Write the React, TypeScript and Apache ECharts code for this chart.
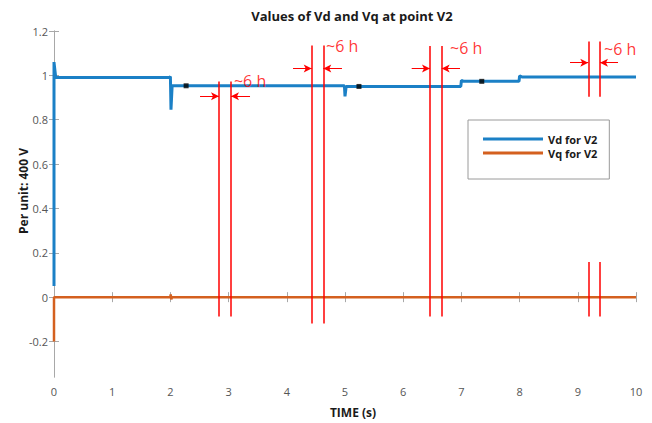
import React, { useEffect, useRef } from "react";
import * as echarts from "echarts";

// ---- data ----
const vdTime = [0, 0, 0.03, 1.98, 2.0, 2.01, 2.03, 4.99, 5.0, 5.02, 6.99, 7.0, 7.04, 7.99, 8.0, 8.04, 10];
const vdValue = [0.05, 1.06, 0.99, 0.99, 0.995, 0.845, 0.953, 0.953, 0.905, 0.95, 0.95, 0.977, 0.973, 0.973, 0.997, 0.993, 0.993];

const vqTime = [0, 0, 2.0, 2.005, 2.015, 2.03, 10];
const vqValue = [-0.2, 0, 0, 0.012, -0.01, 0, 0];

const markerTime = [2.27, 5.24, 7.35];
const markerValue = [0.953, 0.95, 0.973];

const yTicks = [-0.2, 0, 0.2, 0.4, 0.6, 0.8, 1, 1.2];

// red "~6 h" annotations (data units)
const pairLeftX = [2.835, 4.428, 6.46, 9.18];
const pairRightX = [3.041, 4.627, 6.661, 9.381];
const pairTop = [0.972, 1.135, 1.132, 1.153];
const pairBottom = [-0.087, -0.119, -0.087, -0.087];
const pairGapTop = [null, null, null, 0.904];
const pairGapBottom = [null, null, null, 0.158];
const arrowY = [0.906, 1.031, 1.031, 1.057];
const arrowLeftStart = [2.509, 4.107, 6.146, 8.866];
const arrowRightStart = [3.368, 4.948, 6.976, 9.691];
const labelX = [3.058, 4.64, 6.77, 9.416];
const labelY = [0.974, 1.132, 1.122, 1.117];

const FONT = "'Open Sans', 'Noto Sans', sans-serif";
const BLUE = "#1b80c6";
const ORANGE = "#d4601f";
const RED = "#ff0000";

export default function App() {
  const ref = useRef<HTMLDivElement>(null);

  useEffect(() => {
    if (!ref.current) return;
    const chart = echarts.init(ref.current, undefined, { renderer: "svg" });

    const vdData = vdTime.map((t, i) => [t, vdValue[i]]);
    const vqData = vqTime.map((t, i) => [t, vqValue[i]]);
    const markerData = markerTime.map((t, i) => [t, markerValue[i]]);
    const labelData = labelX.map((x, i) => [x, labelY[i]]);

    const noSym = { symbol: "none" };
    const markLines: any[] = [];
    pairLeftX.forEach((lx, i) => {
      const rx = pairRightX[i];
      [lx, rx].forEach((x) => {
        if (pairGapTop[i] != null) {
          markLines.push([
            { coord: [x, pairTop[i]], ...noSym },
            { coord: [x, pairGapTop[i]], ...noSym },
          ]);
          markLines.push([
            { coord: [x, pairGapBottom[i]], ...noSym },
            { coord: [x, pairBottom[i]], ...noSym },
          ]);
        } else {
          markLines.push([
            { coord: [x, pairTop[i]], ...noSym },
            { coord: [x, pairBottom[i]], ...noSym },
          ]);
        }
      });
      markLines.push([
        { coord: [arrowLeftStart[i], arrowY[i]], symbol: "none", lineStyle: { width: 1 } },
        { coord: [lx, arrowY[i]], symbol: "arrow", symbolSize: [6, 8], lineStyle: { width: 1 } },
      ]);
      markLines.push([
        { coord: [arrowRightStart[i], arrowY[i]], symbol: "none", lineStyle: { width: 1 } },
        { coord: [rx, arrowY[i]], symbol: "arrow", symbolSize: [6, 8], lineStyle: { width: 1 } },
      ]);
    });

    const axisLineStyle = { color: "#a8a8a8", width: 1 };

    chart.setOption({
      animation: false,
      backgroundColor: "#ffffff",
      title: {
        text: "Values of Vd and Vq at point V2",
        left: 347,
        top: 4,
        textAlign: "center",
        textStyle: { fontFamily: FONT, fontSize: 13, fontWeight: "bold", color: "#1a1a1a" },
      },
      legend: {
        data: ["Vd for V2", "Vq for V2"],
        orient: "vertical",
        left: 468,
        top: 120,
        icon: "rect",
        itemWidth: 60,
        itemHeight: 3,
        itemGap: 2,
        padding: [13, 12, 20, 15],
        borderColor: "#9a9a9a",
        borderWidth: 1,
        backgroundColor: "#ffffff",
        textStyle: { fontFamily: FONT, fontSize: 11, fontWeight: "bold", color: "#1a1a1a", lineHeight: 12 },
      },
      grid: { left: 54, right: 16, top: 31, bottom: 46, show: false },
      xAxis: [
        {
          type: "value",
          min: 0,
          max: 10,
          interval: 1,
          name: "TIME (s)",
          nameLocation: "middle",
          nameGap: 29,
          nameTextStyle: { fontFamily: FONT, fontSize: 12, fontWeight: "bold", color: "#1a1a1a", padding: [0, 0, 0, 16] },
          axisLine: { show: true, lineStyle: axisLineStyle },
          axisTick: { show: true, inside: true, length: 5, lineStyle: axisLineStyle },
          axisLabel: { fontFamily: FONT, fontSize: 11, color: "#555", margin: 9 },
          splitLine: { show: false },
        },
        {
          type: "value",
          position: "top",
          min: 0,
          max: 10,
          interval: 1,
          axisLine: { show: true, lineStyle: axisLineStyle },
          axisTick: { show: true, inside: true, length: 5, lineStyle: axisLineStyle },
          axisLabel: { show: false },
          splitLine: { show: false },
        },
      ],
      yAxis: [
        {
          type: "value",
          min: -0.36,
          max: 1.2,
          name: "Per unit: 400 V",
          nameLocation: "middle",
          nameGap: 25,
          nameMoveOverlap: false,
          nameTextStyle: { fontFamily: FONT, fontSize: 12, fontWeight: "bold", color: "#1a1a1a", padding: [0, 0, 0, 26] },
          axisLine: { show: true, lineStyle: axisLineStyle },
          axisTick: { show: true, inside: true, length: 5, lineStyle: axisLineStyle, customValues: yTicks },
          axisLabel: {
            fontFamily: FONT,
            fontSize: 11,
            color: "#555",
            margin: 6,
            customValues: yTicks,
            formatter: (v: number) => String(Math.round(v * 10) / 10),
          },
          splitLine: { show: false },
        },
        {
          type: "value",
          position: "right",
          min: -0.36,
          max: 1.2,
          axisLine: { show: true, lineStyle: axisLineStyle },
          axisTick: { show: true, inside: true, length: 5, lineStyle: axisLineStyle, customValues: yTicks },
          axisLabel: { show: false, customValues: yTicks },
          splitLine: { show: false },
        },
      ],
      series: [
        {
          name: "Vd for V2",
          type: "line",
          data: vdData,
          showSymbol: false,
          symbol: "none",
          color: BLUE,
          lineStyle: { color: BLUE, width: 3 },
          z: 3,
        },
        {
          name: "Vq for V2",
          type: "line",
          data: vqData,
          showSymbol: false,
          symbol: "none",
          color: ORANGE,
          lineStyle: { color: ORANGE, width: 2.5 },
          z: 3,
          markLine: {
            silent: true,
            symbol: ["none", "none"],
            label: { show: false },
            lineStyle: { color: RED, width: 1.5, type: "solid" },
            emphasis: { disabled: true },
            data: markLines,
            z: 5,
          },
        },
        {
          name: "markers",
          type: "scatter",
          data: markerData,
          symbol: "rect",
          symbolSize: 5,
          itemStyle: { color: "#000" },
          z: 4,
          silent: true,
        },
        {
          name: "labels",
          type: "scatter",
          data: labelData,
          symbolSize: 0,
          silent: true,
          label: {
            show: true,
            position: "right",
            distance: 2,
            formatter: "~6 h",
            color: RED,
            fontFamily: FONT,
            fontSize: 16,
          },
          z: 6,
        },
      ],
    });

    return () => chart.dispose();
  }, []);

  return <div ref={ref} style={{ width: 652, height: 423, position: "absolute", left: 0, top: 0 }} />;
}
